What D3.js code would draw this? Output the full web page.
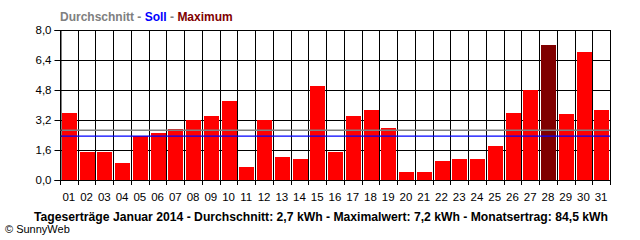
<!DOCTYPE html>
<html>
<head>
<meta charset="utf-8">
<script src="https://cdn.jsdelivr.net/npm/d3@7"></script>
<style>
  body { margin: 0; background: #fff; }
  svg { display: block; font-family: "Liberation Sans", Arial, sans-serif; }
</style>
</head>
<body>
<svg id="chart"></svg>
<script>
let width = 640;
let height = 240;

// daily yield in kWh
let days = ['01','02','03','04','05','06','07','08','09','10','11','12','13','14','15','16',
  '17','18','19','20','21','22','23','24','25','26','27','28','29','30','31'];
let yields = [3.6, 1.5, 1.5, 0.9, 2.35, 2.5, 2.7, 3.2, 3.4, 4.2, 0.7, 3.2, 1.25, 1.1, 5.0, 1.5,
  3.4, 3.75, 2.75, 0.45, 0.45, 1.0, 1.1, 1.1, 1.8, 3.6, 4.8, 7.2, 3.5, 6.85, 3.75];
let average = 2.66;
let target = 2.34;
let yTicks = [0, 1.6, 3.2, 4.8, 6.4, 8.0];
let legend = [
  { text: 'Durchschnitt', color: '#808080' },
  { text: ' - ', color: '#808080' },
  { text: 'Soll', color: '#0000ff' },
  { text: ' - ', color: '#808080' },
  { text: 'Maximum', color: '#800000' }
];
let title = 'Tageserträge Januar 2014 - Durchschnitt: 2,7 kWh - Maximalwert: 7,2 kWh - Monatsertrag: 84,5 kWh';

let mLeft = 60, mRight = 610, mTop = 30, mBottom = 180;
let maxVal = d3.max(yields);

let svg = d3.select('#chart')
  .attr('width', width)
  .attr('height', height);

let xScale = d3
  .scaleBand()
  .domain(days)
  .range([mLeft, mRight]);

let yScale = d3
  .scaleLinear()
  .domain([0, 8])
  .range([mBottom, mTop]);

let fmt = d => d3.format('.1f')(d).replace('.', ',');

// grid lines
svg.append('g')
  .selectAll('line')
  .data(yTicks)
  .enter()
  .append('line')
  .attr('x1', mLeft)
  .attr('x2', mRight)
  .attr('y1', d => Math.round(yScale(d)) + 0.5)
  .attr('y2', d => Math.round(yScale(d)) + 0.5)
  .attr('stroke', '#000');

svg.append('g')
  .selectAll('line')
  .data(days)
  .enter()
  .append('line')
  .attr('x1', d => Math.round(xScale(d)) + 0.5)
  .attr('x2', d => Math.round(xScale(d)) + 0.5)
  .attr('y1', mTop)
  .attr('y2', mBottom + 5)
  .attr('stroke', '#000');

svg.append('line')
  .attr('x1', mRight + 0.5)
  .attr('x2', mRight + 0.5)
  .attr('y1', mTop)
  .attr('y2', mBottom + 5)
  .attr('stroke', '#000');

// bars
svg.append('g')
  .selectAll('rect')
  .data(yields)
  .enter()
  .append('rect')
  .attr('x', (d, i) => Math.round(xScale(days[i])) + 2)
  .attr('width', Math.round(xScale.bandwidth()) - 3)
  .attr('y', d => Math.round(yScale(d)))
  .attr('height', d => mBottom - Math.round(yScale(d)))
  .attr('fill', d => d === maxVal ? '#800000' : '#ff0000');

// average and target lines
svg.append('line')
  .attr('x1', mLeft)
  .attr('x2', mRight)
  .attr('y1', yScale(average))
  .attr('y2', yScale(average))
  .attr('stroke', '#808080')
  .attr('stroke-width', 1.5);

svg.append('line')
  .attr('x1', mLeft)
  .attr('x2', mRight)
  .attr('y1', yScale(target))
  .attr('y2', yScale(target))
  .attr('stroke', '#0000ff')
  .attr('stroke-width', 1.2);

// y axis
let yAxis = d3.axisLeft(yScale)
  .tickValues(yTicks)
  .tickFormat(fmt)
  .tickSize(6)
  .tickPadding(3);

let yg = svg.append('g')
  .attr('transform', `translate(${mLeft + 0.5},0)`)
  .call(yAxis);
yg.select('.domain').attr('stroke', '#000');
yg.selectAll('.tick line').attr('stroke', '#000');
yg.selectAll('text')
  .attr('fill', '#000')
  .style('font-size', '11.5px')
  .style('font-family', '"Liberation Sans", Arial, sans-serif');

// x labels
svg.append('g')
  .selectAll('text')
  .data(days)
  .enter()
  .append('text')
  .attr('x', d => xScale(d) + xScale.bandwidth() / 2)
  .attr('y', 201)
  .attr('text-anchor', 'middle')
  .style('font-size', '11.5px')
  .text(d => d);

// legend
let leg = svg.append('text')
  .attr('x', 60)
  .attr('y', 21)
  .style('font-size', '12px')
  .style('font-weight', 'bold');
leg.selectAll('tspan')
  .data(legend)
  .enter()
  .append('tspan')
  .attr('fill', d => d.color)
  .style('white-space', 'pre')
  .text(d => d.text);

// title
svg.append('text')
  .attr('x', 34)
  .attr('y', 221)
  .attr('textLength', 574)
  .attr('lengthAdjust', 'spacingAndGlyphs')
  .style('font-size', '12px')
  .style('font-weight', 'bold')
  .text(title);

svg.append('text')
  .attr('x', 5)
  .attr('y', 233)
  .style('font-size', '11px')
  .text('© SunnyWeb');
</script>
</body>
</html>
